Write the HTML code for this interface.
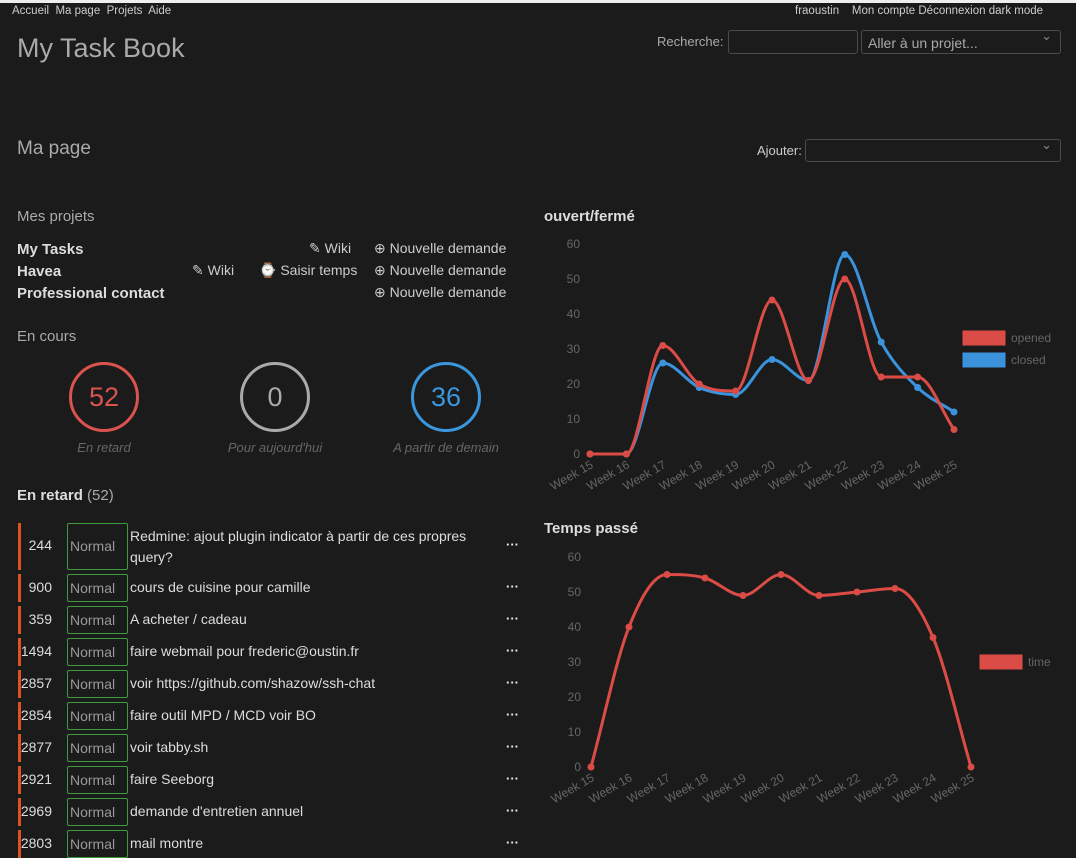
<!DOCTYPE html>
<html><head><meta charset="utf-8"><style>
*{margin:0;padding:0;box-sizing:border-box}
body{width:1076px;height:847px;overflow:hidden;background:#1b1b1b;font-family:"Liberation Sans",sans-serif;color:#ddd;position:relative}
.a{position:absolute;white-space:nowrap}
.top{font-size:11.5px;color:#ccc}
.inp{position:absolute;border:1px solid #4a4a4a;border-radius:3px;background:#1b1b1b}
.sel::after{content:"⌄";position:absolute;right:8px;top:-3px;color:#888;font-size:13px}
.row{position:absolute;left:18px;width:505px;height:28px}
.bar{position:absolute;left:0;top:0;bottom:0;width:3px;background:#d9541e}
.id{position:absolute;left:0;width:34px;text-align:right;font-size:14px;color:#ddd}
.nb{position:absolute;left:49px;top:0;width:61px;height:100%;border:1px solid #3d9a3d;border-radius:2px;font-size:14px;color:#999;padding-left:2px}
.tt{position:absolute;left:112px;font-size:14px;color:#ddd}
.dots{position:absolute;left:488px;font-size:13px;color:#eee;font-weight:bold}
.circ{position:absolute;width:70px;height:70px;border-radius:50%;border:3px solid;text-align:center;line-height:64px;font-size:27px}
.cl{position:absolute;font-size:13px;font-style:italic;color:#666;text-align:center;width:170px}
</style></head><body>
<div class="a" style="left:0;top:0;width:1076px;height:3px;background:#eee"></div>
<div class="a top" style="left:12px;top:5px"><span>Accueil</span>&nbsp; <span>Ma page</span>&nbsp; <span>Projets</span>&nbsp; <span>Aide</span></div>
<div class="a top" style="left:795px;top:5px"><span>fraoustin</span>&nbsp;&nbsp;&nbsp; <span>Mon compte</span>&nbsp;<span>Déconnexion</span>&nbsp;<span>dark mode</span></div>
<div class="a" style="left:17px;top:33px;font-size:27px;color:#aaa">My Task Book</div>
<div class="a" style="left:657px;top:34px;font-size:13px;color:#aaa">Recherche:</div>
<div class="inp" style="left:728px;top:30px;width:130px;height:24px"></div>
<div class="inp sel" style="left:861px;top:30px;width:200px;height:24px;font-size:14px;color:#aaa;padding:4px 6px">Aller à un projet...</div>
<div class="a" style="left:17px;top:138px;font-size:19px;color:#aaa">Ma page</div>
<div class="a" style="left:757px;top:143px;font-size:13px;color:#ccc">Ajouter:</div>
<div class="inp sel" style="left:805px;top:139px;width:256px;height:23px"></div>

<div class="a" style="left:17px;top:208px;font-size:15px;color:#aaa">Mes projets</div>
<div class="a" style="left:17px;top:239px;font-size:15px;font-weight:bold;color:#ddd;line-height:22px"><div>My Tasks</div><div>Havea</div><div>Professional contact</div></div>
<div class="a" style="left:309px;top:240px;font-size:14px;color:#ccc">✎ Wiki</div>
<div class="a" style="left:192px;top:262px;font-size:14px;color:#ccc">✎ Wiki</div>
<div class="a" style="left:259px;top:262px;font-size:14px;color:#ccc">⌚ Saisir temps</div>
<div class="a" style="left:374px;top:240px;font-size:14px;color:#ccc">⊕ Nouvelle demande</div>
<div class="a" style="left:374px;top:262px;font-size:14px;color:#ccc">⊕ Nouvelle demande</div>
<div class="a" style="left:374px;top:284px;font-size:14px;color:#ccc">⊕ Nouvelle demande</div>

<div class="a" style="left:17px;top:328px;font-size:15px;color:#aaa">En cours</div>
<div class="circ" style="left:69px;top:362px;border-color:#d9534f;color:#d9534f">52</div>
<div class="circ" style="left:240px;top:362px;border-color:#aaa;color:#aaa">0</div>
<div class="circ" style="left:411px;top:362px;border-color:#3a97dd;color:#3a97dd">36</div>
<div class="cl" style="left:19px;top:440px">En retard</div>
<div class="cl" style="left:190px;top:440px">Pour aujourd'hui</div>
<div class="cl" style="left:361px;top:440px">A partir de demain</div>

<div class="a" style="left:17px;top:487px;font-size:15px;font-weight:bold;color:#ddd">En retard <span style="color:#aaa;font-weight:normal">(52)</span></div>

<div class="row" style="top:523px;height:47px"><div class="bar"></div><div class="id" style="top:14px">244</div><div class="nb" style="line-height:45px">Normal</div><div class="tt" style="top:3px;line-height:21px">Redmine: ajout plugin indicator à partir de ces propres<br>query?</div><div class="dots" style="top:14px">···</div></div>
<div id="rows"></div>

<div class="a" style="left:544px;top:208px;font-size:15px;font-weight:bold;color:#ddd">ouvert/fermé</div>
<div class="a" style="left:544px;top:520px;font-size:15px;font-weight:bold;color:#ddd">Temps passé</div>
<svg class="a" style="left:0;top:0" width="1076" height="847" id="svg"></svg>

<script>
const rowIds=["900","359","1494","2857","2854","2877","2921","2969","2803"];
const rowTitles=["cours de cuisine pour camille","A acheter / cadeau","faire webmail pour frederic@oustin.fr","voir https://github.com/shazow/ssh-chat","faire outil MPD / MCD voir BO","voir tabby.sh","faire Seeborg","demande d'entretien annuel","mail montre"];
const rc=document.getElementById('rows');
rowIds.forEach((id,i)=>{
 const d=document.createElement('div');d.className='row';d.style.top=(574+i*32)+'px';
 
 
 d.innerHTML='<div class="bar"></div><div class="id" style="top:5px">'+id+'</div><div class="nb" style="line-height:26px">Normal</div><div class="tt" style="top:5px">'+rowTitles[i]+'</div><div class="dots" style="top:5px">···</div>';
 rc.appendChild(d);
});

const weeks=["Week 15","Week 16","Week 17","Week 18","Week 19","Week 20","Week 21","Week 22","Week 23","Week 24","Week 25"];
const yTicks=[0,10,20,30,40,50,60];
const opened=[0,0,31,20,18,44,21,50,22,22,7];
const closed=[0,0,26,19,17,27,21,57,32,19,12];
const timeSpent=[0,40,55,54,49,55,49,50,51,37,0];

const svg=document.getElementById('svg');const NS='http://www.w3.org/2000/svg';
function el(t,a,p){const e=document.createElementNS(NS,t);for(const k in a)e.setAttribute(k,a[k]);(p||svg).appendChild(e);return e;}
function spline(pts){
 const n=pts.length,dx=[],m=[],tg=[];
 for(let i=0;i<n-1;i++){dx[i]=pts[i+1][0]-pts[i][0];m[i]=(pts[i+1][1]-pts[i][1])/dx[i];}
 tg[0]=m[0];tg[n-1]=m[n-2];
 for(let i=1;i<n-1;i++){tg[i]=(m[i-1]*m[i]<=0)?0:(m[i-1]+m[i])/2;}
 for(let i=0;i<n-1;i++){if(m[i]===0){tg[i]=0;tg[i+1]=0;continue;}
  const a=tg[i]/m[i],b=tg[i+1]/m[i],s=a*a+b*b;if(s>9){const t=3/Math.sqrt(s);tg[i]=t*a*m[i];tg[i+1]=t*b*m[i];}}
 let d='M'+pts[0][0]+','+pts[0][1];
 for(let i=0;i<n-1;i++){const h=dx[i]/3;
  d+=' C'+(pts[i][0]+h)+','+(pts[i][1]+tg[i]*h)+' '+(pts[i+1][0]-h)+','+(pts[i+1][1]-tg[i+1]*h)+' '+pts[i+1][0]+','+pts[i+1][1];}
 return d;}
function chart(name,x0,x1,y0,y60,series,legend){
 const g=el('g',{});
 
 
 const X=i=>x0+(x1-x0)*i/(weeks.length-1), Y=v=>y0-(y0-y60)*v/60;
 yTicks.forEach(v=>{const t=el('text',{x:x0-10,y:Y(v)+4,'text-anchor':'end','font-size':12,fill:'#666','font-family':'Liberation Sans'},g);t.textContent=v;
  
  });
 weeks.forEach((w,i)=>{const t=el('text',{x:X(i)+4,y:y0+13,'text-anchor':'end','font-size':12,fill:'#666','font-family':'Liberation Sans',transform:'rotate(-30 '+(X(i)+4)+' '+(y0+13)+')'},g);t.textContent=w;
  
  });
 series.forEach(s=>{const pts=s.v.map((v,i)=>[X(i),Y(v)]);
  const p=el('path',{d:spline(pts),fill:'none',stroke:s.c,'stroke-width':3},g);
  
  
  pts.forEach(q=>{const c=el('circle',{cx:q[0],cy:q[1],r:3.5,fill:s.c},g);
   
   });});
 legend.forEach((s,i)=>{const r=el('rect',{x:s.x,y:s.y+i*22,width:42,height:14,fill:s.c,stroke:s.c},g);
  
  
  const t=el('text',{x:s.x+48,y:s.y+i*22+11,'font-size':12,fill:'#666','font-family':'Liberation Sans'},g);t.textContent=s.n;
  
  });
}
chart('chart-open-closed',590,954,454,244,[{v:closed,c:'#3a93dc',n:'closed'},{v:opened,c:'#dc4c46',n:'opened'}],
 [{x:963,y:331,c:'#dc4c46',n:'opened'},{x:963,y:331,c:'#3a93dc',n:'closed'}]);
chart('chart-time',591,971,767,557,[{v:timeSpent,c:'#dc4c46',n:'time'}],[{x:980,y:655,c:'#dc4c46',n:'time'}]);
</script>
</body></html>
